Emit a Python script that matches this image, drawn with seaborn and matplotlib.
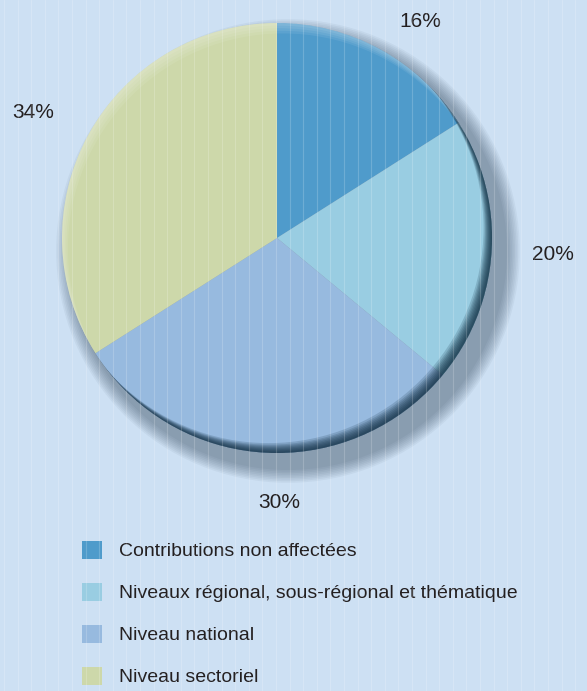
import numpy as np
import matplotlib
matplotlib.use('Agg')
import matplotlib.pyplot as plt
from matplotlib.patches import Circle, Patch
from matplotlib.lines import Line2D
import seaborn as sns

# data
categories = ['Contributions non affectées',
              'Niveaux régional, sous-régional et thématique',
              'Niveau national',
              'Niveau sectoriel']
shares = [16, 20, 30, 34]
slice_colors = ['#4f9bcb', '#99cde2', '#97badf', '#cdd8aa']
# small nudges (points) for the percentage labels
label_nudge = [(11, -12), (7, 0), (14, 1), (-7, -2)]

sns.set_theme(style='white')
plt.rcParams['font.family'] = ['Liberation Sans', 'DejaVu Sans']

BG = '#cde0f3'
TXT = '#231f20'
W, H = 587, 691
fig = plt.figure(figsize=(W / 100, H / 100), dpi=100, facecolor=BG)

# pie axes: centre (277, 238) px, radius 215 px
R_PX = 215
cx, cy = 277, 238
ax = fig.add_axes([(cx - R_PX) / W, (H - cy - R_PX) / H, 2 * R_PX / W, 2 * R_PX / H])
px = 1 / R_PX

palette = sns.color_palette(slice_colors)
wedges, _ = ax.pie(shares, colors=palette, startangle=90, counterclock=False,
                   wedgeprops=dict(linewidth=0, zorder=2), radius=1)
ax.set_xlim(-1, 1)
ax.set_ylim(-1, 1)
ax.set_aspect('equal')
ax.axis('off')

for w, s, (dx, dy) in zip(wedges, shares, label_nudge):
    th = np.deg2rad((w.theta1 + w.theta2) / 2)
    ax.annotate(f'{s}%', (1.24 * np.cos(th), 1.24 * np.sin(th)),
                xytext=(dx, dy), textcoords='offset points',
                ha='center', va='center', fontsize=15, color=TXT,
                annotation_clip=False)

# soft outer shadow down-right
for k in range(9):
    ax.add_patch(Circle((11 * px, -13 * px), 1 + (4 + 1.6 * k) * px,
                        color='#2b3f55', alpha=0.055, lw=0, zorder=0, clip_on=False))

# inner dark rim (bottom right) and light rim (top left)
for d in [2, 3.5, 5, 6.5, 8, 9.5, 11, 13]:
    ring = Circle((-d * 0.65 * px, d * 0.76 * px), 1 + 60 * px, fill=False,
                  lw=120 * 0.72, edgecolor='#0d2a3e', alpha=0.17, zorder=5)
    ax.add_patch(ring)
    ring.set_clip_path(Circle((0, 0), 1, transform=ax.transData))
for d in [3, 6, 9, 12]:
    ring = Circle((d * 0.5 * px, -d * 0.87 * px), 1 + 60 * px, fill=False,
                  lw=120 * 0.72, edgecolor='white', alpha=0.08, zorder=5)
    ax.add_patch(ring)
    ring.set_clip_path(Circle((0, 0), 1, transform=ax.transData))

# legend
handles = [Patch(facecolor=c, edgecolor='none') for c in palette]
fig.legend(handles, categories, loc='upper left', bbox_to_anchor=(74 / W, 1 - 533 / H),
           frameon=False, fontsize=14, handlelength=1.05, handleheight=1.05,
           handletextpad=0.85, labelspacing=1.15, borderaxespad=0,
           labelcolor=TXT)

# vertical pinstripes of the background
for x in np.arange(4, W, 13.6):
    fig.add_artist(Line2D([x / W, x / W], [0, 1], transform=fig.transFigure,
                          color='white', alpha=0.18, lw=0.8, zorder=10))

fig.savefig('out.png', dpi=100, facecolor=BG)
